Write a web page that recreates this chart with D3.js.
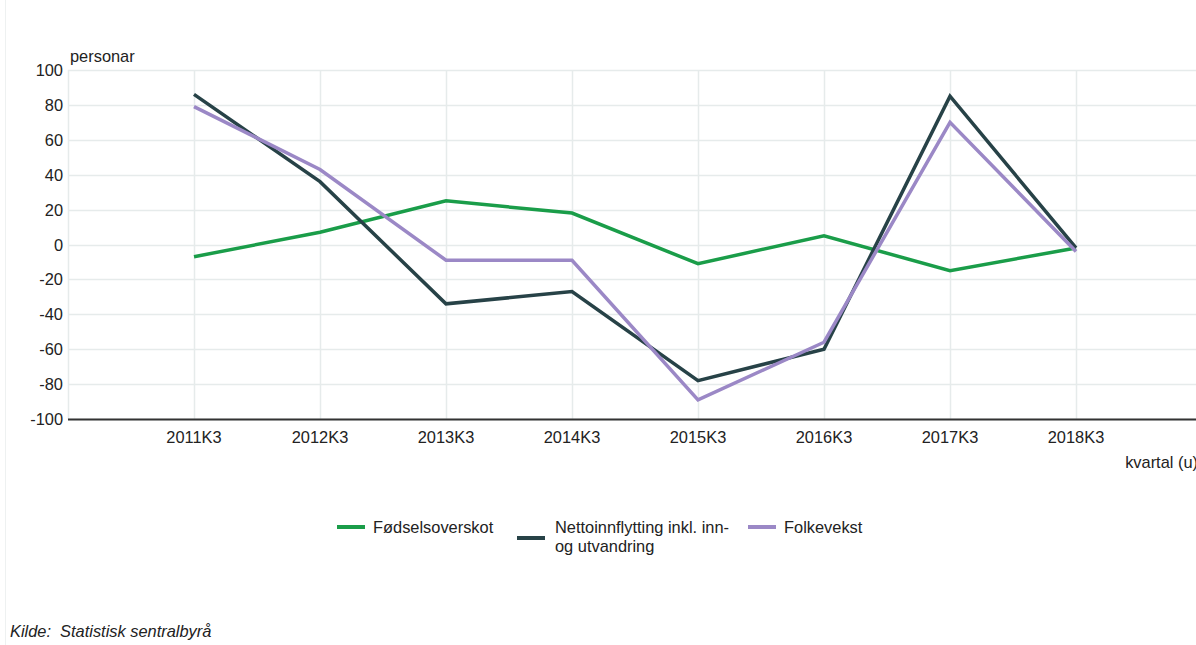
<!DOCTYPE html>
<html>
<head>
<meta charset="utf-8">
<script src="https://cdn.jsdelivr.net/npm/d3@7"></script>
<style>
  body { margin: 0; background: #fff; }
  #chart { width: 1196px; height: 645px; overflow: hidden; }
  text { font-family: "Liberation Sans", Arial, sans-serif; fill: #222; }
</style>
</head>
<body>
<div id="chart"></div>
<script>
// Data
var periods = ["2011K3", "2012K3", "2013K3", "2014K3", "2015K3", "2016K3", "2017K3", "2018K3"];
var fodselsoverskot = [-7, 7, 25, 18, -11, 5, -15, -2];
var nettoinnflytting = [86, 36, -34, -27, -78, -60, 85, -2];
var folkevekst = [79, 43, -9, -9, -89, -56, 70, -4];
var yTicks = [-100, -80, -60, -40, -20, 0, 20, 40, 60, 80, 100];

var seriesNames = [["Fødselsoverskot"], ["Nettoinnflytting inkl. inn-", "og utvandring"], ["Folkevekst"]];
var seriesColors = ["#1a9d49", "#274247", "#9b88c6"];
var seriesValues = [fodselsoverskot, nettoinnflytting, folkevekst];

var width = 1196, height = 645;
var plotLeft = 68, plotTop = 70, plotBottom = 419;
var fontSize = "16.4px";

var svg = d3.select("#chart").append("svg")
  .attr("width", width)
  .attr("height", height);

// light frame at the left edge
svg.append("line")
  .attr("x1", 5.5).attr("x2", 5.5).attr("y1", 0).attr("y2", height)
  .style("stroke", "#eef1f1");

// x is a linear index: one empty step before the first and after the last period
var x = d3.scaleLinear().domain([-1, periods.length]).range([plotLeft, plotLeft + 126 * (periods.length + 1)]);
var y = d3.scaleLinear().domain([-100, 100]).range([plotBottom, plotTop]);

// horizontal grid
svg.append("g")
  .selectAll("line")
  .data(yTicks)
  .enter()
  .append("line")
  .attr("x1", plotLeft).attr("x2", width)
  .attr("y1", function(d) { return Math.round(y(d)) + 0.5; })
  .attr("y2", function(d) { return Math.round(y(d)) + 0.5; })
  .style("stroke", "#e6ebeb")
  .style("stroke-width", 1.5);

// vertical grid
svg.append("g")
  .selectAll("line")
  .data(d3.range(-1, periods.length))
  .enter()
  .append("line")
  .attr("x1", function(d) { return Math.round(x(d)) + 0.5; })
  .attr("x2", function(d) { return Math.round(x(d)) + 0.5; })
  .attr("y1", plotTop).attr("y2", plotBottom)
  .style("stroke", "#e6ebeb")
  .style("stroke-width", 1.5);

// y tick labels
svg.append("g")
  .selectAll("text")
  .data(yTicks)
  .enter()
  .append("text")
  .attr("x", 63)
  .attr("y", function(d) { return y(d) + 6; })
  .attr("text-anchor", "end")
  .style("font-size", fontSize)
  .text(function(d) { return d; });

// bottom axis line
svg.append("line")
  .attr("x1", plotLeft).attr("x2", width)
  .attr("y1", plotBottom + 0.5).attr("y2", plotBottom + 0.5)
  .style("stroke", "#333")
  .style("stroke-width", 2);

// x tick labels
svg.append("g")
  .selectAll("text")
  .data(periods)
  .enter()
  .append("text")
  .attr("x", function(d, i) { return x(i); })
  .attr("y", 443)
  .attr("text-anchor", "middle")
  .style("font-size", fontSize)
  .text(function(d) { return d; });

// axis titles
svg.append("text")
  .attr("x", 70).attr("y", 62)
  .style("font-size", fontSize)
  .text("personar");

svg.append("text")
  .attr("x", 1198).attr("y", 468)
  .attr("text-anchor", "end")
  .style("font-size", fontSize)
  .text("kvartal (u)");

// lines
var line = d3.line()
  .x(function(d, i) { return x(i); })
  .y(function(d) { return y(d); });

svg.append("g")
  .selectAll("path")
  .data(seriesValues)
  .enter()
  .append("path")
  .attr("d", line)
  .style("fill", "none")
  .style("stroke", function(d, i) { return seriesColors[i]; })
  .style("stroke-width", 3.5)
  .style("stroke-linejoin", "miter");

// legend
var legendX = [337, 517, 748];
var legend = svg.append("g")
  .selectAll("g")
  .data(seriesNames)
  .enter()
  .append("g")
  .attr("transform", function(d, i) { return "translate(" + legendX[i] + ",527)"; });

legend.append("line")
  .attr("x1", 0).attr("x2", 28)
  .attr("y1", function(d) { return d.length > 1 ? 11 : 0; })
  .attr("y2", function(d) { return d.length > 1 ? 11 : 0; })
  .style("stroke", function(d, i) { return seriesColors[i]; })
  .style("stroke-width", 4);

legend.append("text")
  .attr("x", function(d) { return d.length > 1 ? 38 : 36; })
  .attr("y", 6)
  .style("font-size", fontSize)
  .selectAll("tspan")
  .data(function(d) { return d; })
  .enter()
  .append("tspan")
  .attr("x", function() { return d3.select(this.parentNode).attr("x"); })
  .attr("dy", function(d, i) { return i === 0 ? 0 : 19; })
  .text(function(d) { return d; });

// source
svg.append("text")
  .attr("x", 10).attr("y", 637)
  .style("font-size", fontSize)
  .style("font-style", "italic")
  .attr("xml:space", "preserve")
  .text("Kilde:  Statistisk sentralbyrå");
</script>
</body>
</html>
